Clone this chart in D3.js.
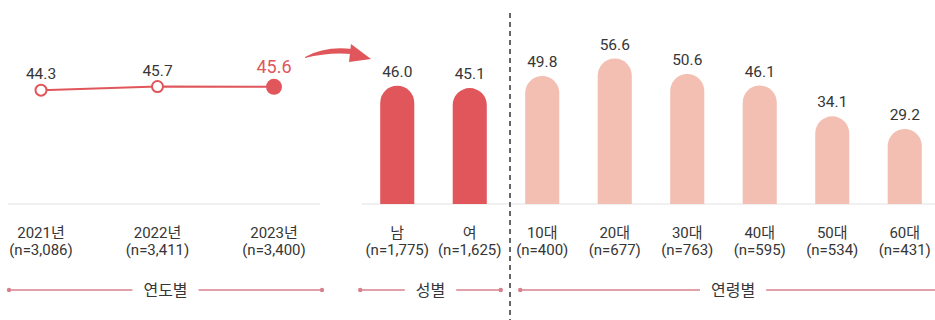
<!DOCTYPE html>
<html>
<head>
<meta charset="utf-8">
<script src="https://cdn.jsdelivr.net/npm/d3@7"></script>
<style>
  html, body { margin: 0; padding: 0; background: #fff; }
  svg { display: block; }
  text { font-family: Roboto, "Noto Sans CJK KR", sans-serif; }
</style>
</head>
<body>
<svg id="chart" width="935" height="320"></svg>
<script>
// ---- data ----
const years = ["2021년", "2022년", "2023년"];
const yearN = ["(n=3,086)", "(n=3,411)", "(n=3,400)"];
const yearValues = [44.3, 45.7, 45.6];

const genders = ["남", "여"];
const genderN = ["(n=1,775)", "(n=1,625)"];
const genderValues = [46.0, 45.1];

const ages = ["10대", "20대", "30대", "40대", "50대", "60대"];
const ageN = ["(n=400)", "(n=677)", "(n=763)", "(n=595)", "(n=534)", "(n=431)"];
const ageValues = [49.8, 56.6, 50.6, 46.1, 34.1, 29.2];

const groupLabels = ["연도별", "성별", "연령별"];

// ---- styles ----
const RED = "#e0565b";
const PINK = "#f3bfb3";
const TEXT = "#363636";
const GUIDE = "#d8808c";

const svg = d3.select("#chart");

const baseY = 204;
const y = d3.scaleLinear().domain([0, 60]).range([baseY, baseY - 60 * 2.57]);

// bars: gender + age share one band scale
const barCats = genders.concat(ages);
const barVals = genderValues.concat(ageValues);
const barNs = genderN.concat(ageN);
const x = d3.scaleBand().domain(barCats).range([361, 941]).paddingInner(0.53).paddingOuter(0.265);

// line: years
const xl = d3.scalePoint().domain(years).range([41, 274]);

// baselines
svg.append("line").attr("x1", 8).attr("x2", 320).attr("y1", baseY).attr("y2", baseY)
  .attr("stroke", "#e2e2e2").attr("stroke-width", 1);
svg.append("line").attr("x1", 362).attr("x2", 935).attr("y1", baseY).attr("y2", baseY)
  .attr("stroke", "#e2e2e2").attr("stroke-width", 1);

// bars with round tops
const bw = x.bandwidth();
function barPath(x0, top, w, bottom) {
  const r = w / 2;
  return `M${x0},${bottom} L${x0},${top + r} A${r},${r} 0 0 1 ${x0 + w},${top + r} L${x0 + w},${bottom} Z`;
}
svg.append("g").selectAll("path").data(barCats).join("path")
  .attr("d", (d, i) => barPath(x(d), y(barVals[i]), bw, baseY))
  .attr("fill", (d, i) => i < genders.length ? RED : PINK);

// bar value labels
svg.append("g").selectAll("text").data(barCats).join("text")
  .attr("x", d => x(d) + bw / 2)
  .attr("y", (d, i) => y(barVals[i]) - 9)
  .attr("text-anchor", "middle")
  .attr("font-size", 15.5)
  .attr("fill", TEXT)
  .text((d, i) => barVals[i].toFixed(1));

// bar category labels
svg.append("g").selectAll("text").data(barCats).join("text")
  .attr("x", d => x(d) + bw / 2)
  .attr("y", 238)
  .attr("text-anchor", "middle")
  .attr("font-size", 15)
  .attr("fill", TEXT)
  .text(d => d);
svg.append("g").selectAll("text").data(barCats).join("text")
  .attr("x", d => x(d) + bw / 2)
  .attr("y", 255)
  .attr("text-anchor", "middle")
  .attr("font-size", 15)
  .attr("fill", TEXT)
  .text((d, i) => barNs[i]);

// line chart
const line = d3.line().x((d, i) => xl(years[i])).y(d => y(d));
svg.append("path").datum(yearValues).attr("d", line)
  .attr("fill", "none").attr("stroke", RED).attr("stroke-width", 2);
svg.append("g").selectAll("circle").data(yearValues).join("circle")
  .attr("cx", (d, i) => xl(years[i]))
  .attr("cy", d => y(d))
  .attr("r", (d, i) => i === years.length - 1 ? 8 : 5.5)
  .attr("fill", (d, i) => i === years.length - 1 ? RED : "#fff")
  .attr("stroke", RED)
  .attr("stroke-width", (d, i) => i === years.length - 1 ? 0 : 2);
svg.append("g").selectAll("text").data(yearValues).join("text")
  .attr("x", (d, i) => xl(years[i]))
  .attr("y", (d, i) => y(d) - (i === years.length - 1 ? 14 : 11))
  .attr("text-anchor", "middle")
  .attr("font-size", (d, i) => i === years.length - 1 ? 18 : 15.5)
  .attr("fill", (d, i) => i === years.length - 1 ? RED : TEXT)
  .text(d => d.toFixed(1));
svg.append("g").selectAll("text").data(years).join("text")
  .attr("x", d => xl(d)).attr("y", 238)
  .attr("text-anchor", "middle").attr("font-size", 15).attr("fill", TEXT)
  .text(d => d);
svg.append("g").selectAll("text").data(years).join("text")
  .attr("x", d => xl(d)).attr("y", 255)
  .attr("text-anchor", "middle").attr("font-size", 15).attr("fill", TEXT)
  .text((d, i) => yearN[i]);

// dashed divider
svg.append("line").attr("x1", 510).attr("x2", 510).attr("y1", 13).attr("y2", 320)
  .attr("stroke", "#666").attr("stroke-width", 2).attr("stroke-dasharray", "5,4");

// group guides
const gy = 290;
const spans = [
  [9, 322],
  [x(genders[0]) - 20, x(genders[genders.length - 1]) + bw + 14],
  [x(ages[0]) - 5, 946]
];
spans.forEach((s, i) => {
  const cx = (s[0] + s[1]) / 2;
  const label = svg.append("text").attr("x", cx).attr("y", gy + 6)
    .attr("text-anchor", "middle").attr("font-size", 16).attr("fill", TEXT)
    .text(groupLabels[i]);
  const w = label.node().getComputedTextLength();
  const gap = 11;
  svg.append("line").attr("x1", s[0]).attr("x2", cx - w / 2 - gap).attr("y1", gy).attr("y2", gy)
    .attr("stroke", GUIDE).attr("stroke-width", 1.3);
  svg.append("line").attr("x1", cx + w / 2 + gap).attr("x2", s[1]).attr("y1", gy).attr("y2", gy)
    .attr("stroke", GUIDE).attr("stroke-width", 1.3);
  [s[0], s[1]].forEach(px => {
    svg.append("circle").attr("cx", px).attr("cy", gy).attr("r", 2.2).attr("fill", GUIDE);
  });
});

// curved arrow
svg.append("path")
  .attr("d", "M305,57 Q325,46 352,49 L352,54 Q328,52 305,58 Z")
  .attr("fill", RED);
svg.append("path")
  .attr("d", "M351,44 L371,59 L349,62 Z")
  .attr("fill", RED);
</script>
</body>
</html>
